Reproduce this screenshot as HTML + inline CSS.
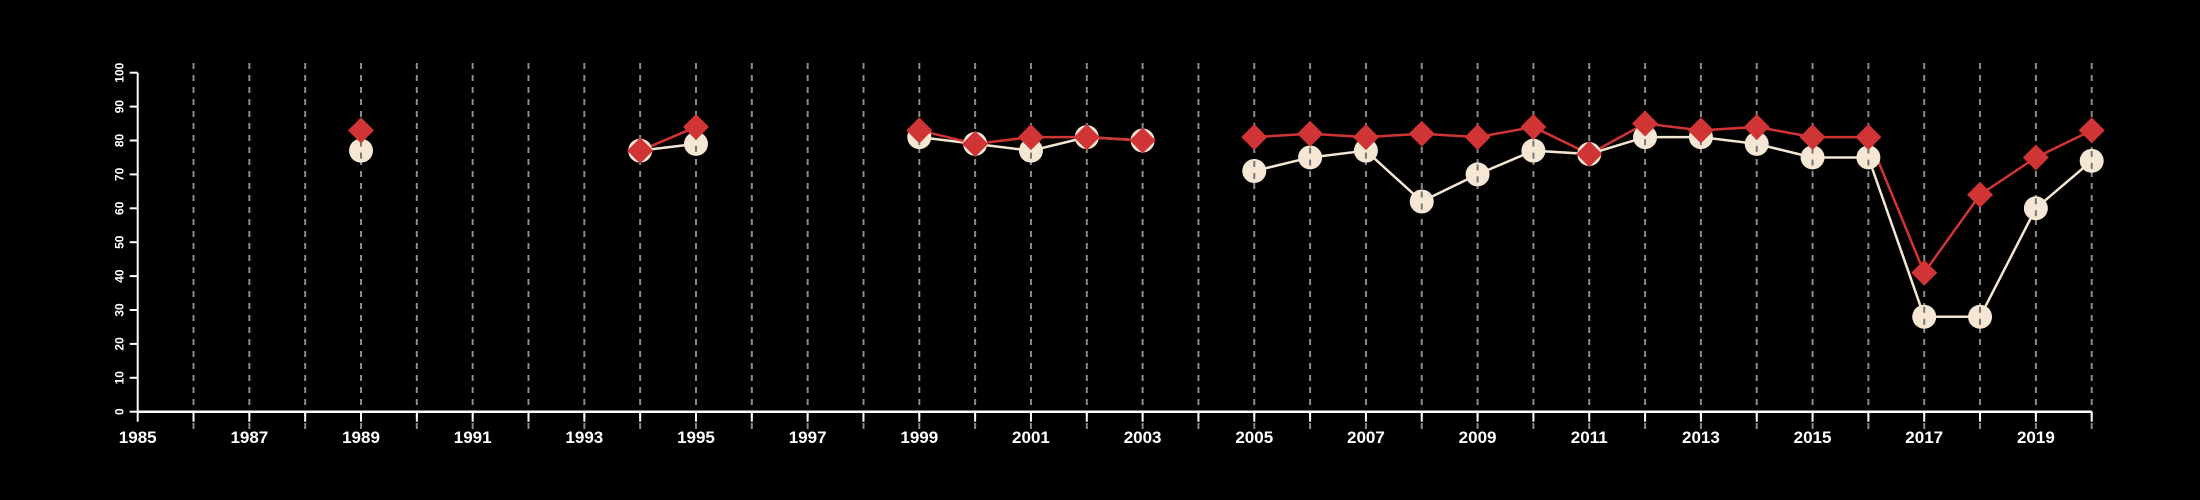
<!DOCTYPE html>
<html><head><meta charset="utf-8"><style>
html,body{margin:0;padding:0;background:#000;}
svg{display:block;font-family:"Liberation Sans",sans-serif;}
</style></head><body>
<svg id="chart" width="2200" height="500" viewBox="0 0 2200 500">
<rect width="2200" height="500" fill="#000"/>
<g id="grid"></g>
<g id="axes"></g>
<g id="series"></g>
</svg>
<script>
const years = [1989,1990,1991,1992,1993,1994,1995,1996,1997,1998,1999,2000,2001,2002,2003,2004,2005,2006,2007,2008,2009,2010,2011,2012,2013,2014,2015,2016,2017,2018,2019,2020];
const seriesWhite = [77,null,null,null,null,77,79,null,null,null,81,79,77,81,80,null,71,75,77,62,70,77,76,81,81,79,75,75,28,28,60,74];
const seriesRed = [83,null,null,null,null,77,84,null,null,null,83,79,81,81,80,null,81,82,81,82,81,84,76,85,83,84,81,81,41,64,75,83];
const yTicks = [0,10,20,30,40,50,60,70,80,90,100];
const xLabelYears = [1985,1987,1989,1991,1993,1995,1997,1999,2001,2003,2005,2007,2009,2011,2013,2015,2017,2019];

const NS = "http://www.w3.org/2000/svg";
const X0 = 137.7, X1 = 2091.7, Y0 = 411.7, Y1 = 72.7;
const xs = y => X0 + (y - 1985) / 35 * (X1 - X0);
const ys = v => Y0 - v / 100 * (Y0 - Y1);
function mk(tag, attrs, parent){const e=document.createElementNS(NS,tag);for(const k in attrs)e.setAttribute(k,attrs[k]);parent.appendChild(e);return e;}
const grid=document.getElementById('grid'), axes=document.getElementById('axes'), ser=document.getElementById('series');

for(let y=1986;y<=2020;y++){
  const l=mk('line',{x1:xs(y),x2:xs(y),y1:63,y2:430,stroke:'#8a8a8a','stroke-width':2,'stroke-dasharray':'6,6'},grid);
  
  
}
const xa=mk('line',{x1:X0,x2:X1,y1:Y0,y2:Y0,stroke:'#fff','stroke-width':2.5},axes);


const ya=mk('line',{x1:X0,x2:X0,y1:Y0,y2:Y1,stroke:'#fff','stroke-width':2},axes);


for(let y=1985;y<=2020;y++){
  const t=mk('line',{x1:xs(y),x2:xs(y),y1:Y0,y2:Y0+10,stroke:'#fff','stroke-width':2},axes);
  
  
}
xLabelYears.forEach(y=>{
  const t=mk('text',{x:xs(y),y:443,'text-anchor':'middle','font-size':17,'font-weight':'bold',fill:'#fff'},axes);
  t.textContent=y;
  
  
});
yTicks.forEach(v=>{
  const t=mk('line',{x1:X0-8,x2:X0,y1:ys(v),y2:ys(v),stroke:'#fff','stroke-width':2},axes);
  
  
  const tx=mk('text',{x:0,y:0,transform:`translate(${X0-14},${ys(v)}) rotate(-90)`,'text-anchor':'middle','font-size':12,'font-weight':'bold',fill:'#fff'},axes);
  tx.textContent=v;
  
  
});

function drawLines(vals,color,name){
  let seg=[];
  const flush=()=>{ if(seg.length>1){const p=mk('polyline',{points:seg.join(' '),fill:'none',stroke:color,'stroke-width':2.5},ser);
    
    } seg=[]; };
  vals.forEach((v,i)=>{ if(v===null){flush();} else seg.push(xs(years[i])+','+ys(v)); });
  flush();
}
drawLines(seriesWhite,'#f3e6d2','white-series');
drawLines(seriesRed,'#d03434','red-series');
seriesWhite.forEach((v,i)=>{ if(v===null)return;
  const c=mk('circle',{cx:xs(years[i]),cy:ys(v),r:12,fill:'#f5e7d3'},ser);
  
  
  const d=mk('line',{x1:xs(years[i]),x2:xs(years[i]),y1:ys(v)-10,y2:ys(v)+10,stroke:'#777','stroke-width':2,'stroke-dasharray':'6,6'},ser);
  
  
});
seriesRed.forEach((v,i)=>{ if(v===null)return;
  const x=xs(years[i]),y=ys(v),s=13;
  const p=mk('polygon',{points:`${x},${y-s} ${x+s},${y} ${x},${y+s} ${x-s},${y}`,fill:'#d03434'},ser);
  
  
});
</script>
</body></html>
